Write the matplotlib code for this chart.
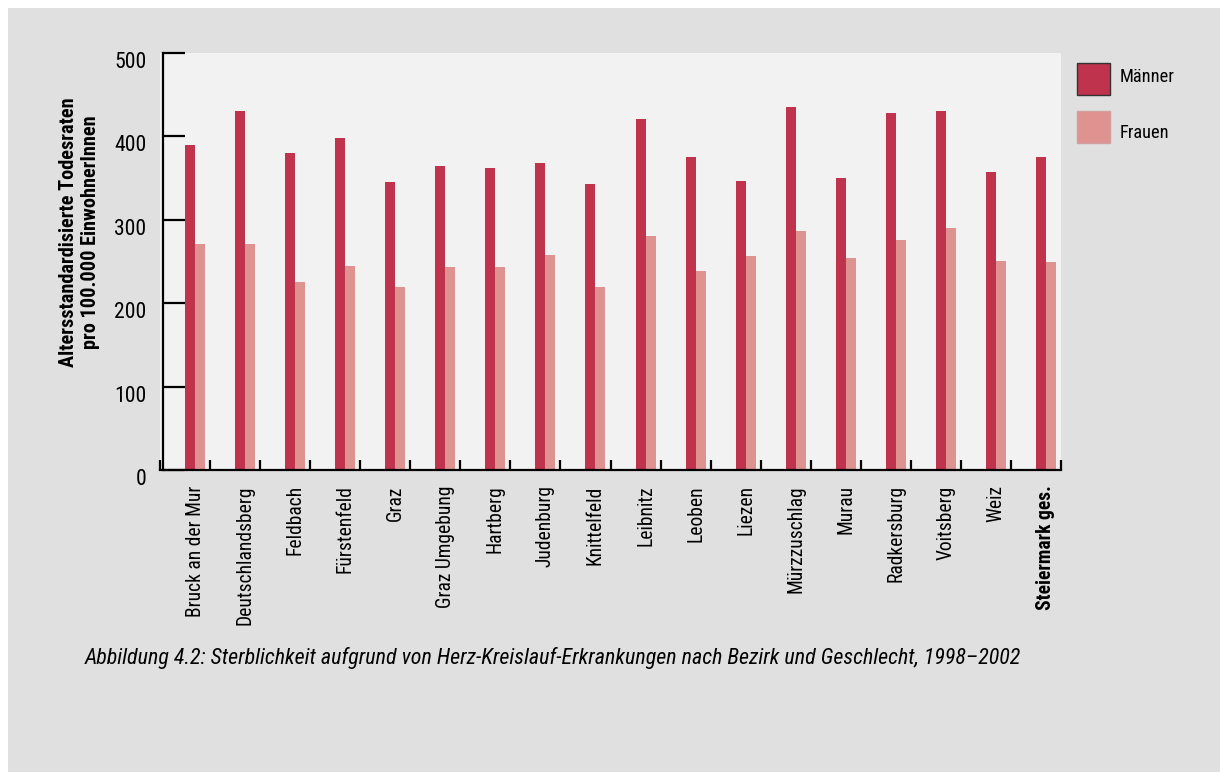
import numpy as np
import matplotlib.pyplot as plt
import matplotlib.transforms as mtransforms
from matplotlib import font_manager
from matplotlib.patches import Rectangle

# Altersstandardisierte Todesraten je Bezirk, 1998-2002
bezirke = ['Bruck an der Mur', 'Deutschlandsberg', 'Feldbach', 'Fürstenfeld', 'Graz',
           'Graz Umgebung', 'Hartberg', 'Judenburg', 'Knittelfeld', 'Leibnitz', 'Leoben',
           'Liezen', 'Mürzzuschlag', 'Murau', 'Radkersburg', 'Voitsberg', 'Weiz',
           'Steiermark ges.']
maenner = [390, 431, 380, 398, 345, 365, 362, 368, 343, 421, 375, 347, 435, 350, 428, 431, 357, 375]
frauen = [271, 271, 226, 245, 220, 244, 244, 258, 219, 280, 239, 257, 287, 254, 276, 290, 251, 249]
y_ticks = [0, 100, 200, 300, 400, 500]
caption = ('Abbildung 4.2: Sterblichkeit aufgrund von Herz-Kreislauf-Erkrankungen '
           'nach Bezirk und Geschlecht, 1998–2002')

# prefer a narrow sans, fall back to an Arial-like one
installed = {f.name for f in font_manager.fontManager.ttflist}
wanted = ['Liberation Sans Narrow', 'Roboto Condensed', 'Noto Sans Condensed',
          'Open Sans Condensed', 'Liberation Sans', 'Roboto']
font = next((f for f in wanted if f in installed), 'DejaVu Sans')
plt.rcParams['font.family'] = [font, 'DejaVu Sans']

C_M = '#bf344c'
C_F = '#df9391'

W, H = 1220, 772
fig = plt.figure(figsize=(W / 100, H / 100), dpi=100, facecolor='white')

# scale all text so the caption spans its intended width
probe = fig.text(0, 0, caption, fontsize=15, style='italic')
fig.canvas.draw()
k = 937 / probe.get_window_extent().width
probe.remove()
fs = lambda s: s * k

# grey page background with a thin white margin top/left
fig.add_artist(Rectangle((8 / W, 0), 1, 1 - 8 / H, transform=fig.transFigure,
                         facecolor='#e0e0e0', edgecolor='none', zorder=-10))

ax = fig.add_axes([160 / W, (H - 470) / H, 901 / W, 417 / H])
ax.set_facecolor('#f2f2f2')

x = np.arange(len(bezirke))
bw = 0.2
ax.bar(x + bw / 2, maenner, width=bw, color=C_M, zorder=2)
ax.bar(x + 1.5 * bw, frauen, width=bw, color=C_F, zorder=2)

ax.set_xlim(-0.5, 17.5)
ax.set_ylim(0, 500)

for s in ['top', 'right']:
    ax.spines[s].set_visible(False)
ax.spines['left'].set_position(('data', -0.44))
ax.spines['left'].set_linewidth(1.6)
ax.spines['bottom'].set_linewidth(1.6)

# y axis: inward ticks, labels shifted slightly down
ax.set_yticks(y_ticks)
ax.set_yticklabels([str(v) for v in y_ticks])
ax.tick_params(axis='y', direction='in', length=16, width=1.6, pad=12, labelsize=fs(14.8))
off = mtransforms.ScaledTranslation(0, -7 / 100, fig.dpi_scale_trans)
for lab in ax.get_yticklabels():
    lab.set_transform(lab.get_transform() + off)

# x axis: short inward ticks at group boundaries, names on minor ticks
ax.set_xticks(np.arange(-0.5, 18, 1))
ax.set_xticklabels([])
ax.tick_params(axis='x', which='major', direction='in', length=7, width=1.6)
ax.set_xticks(x + bw, minor=True)
ax.set_xticklabels(bezirke, minor=True, rotation=90, va='top', ha='center')
ax.tick_params(axis='x', which='minor', length=0, pad=11, labelsize=fs(13.3))
ax.get_xticklabels(minor=True)[-1].set_fontweight('bold')

fig.text(79 / W, 1 - 232 / H,
         'Altersstandardisierte Todesraten\npro 100.000 EinwohnerInnen',
         rotation=90, ha='center', va='center', fontsize=fs(13.8), fontweight='bold',
         linespacing=1.2)

# legend
fig.add_artist(Rectangle((1077 / W, 1 - 95 / H), 33 / W, 32 / H, transform=fig.transFigure,
                         facecolor=C_M, edgecolor='#333333', linewidth=1))
fig.add_artist(Rectangle((1077 / W, 1 - 143 / H), 33 / W, 32 / H, transform=fig.transFigure,
                         facecolor=C_F, edgecolor='#d0a0a0', linewidth=1))
fig.text(1120 / W, 1 - 77 / H, 'Männer', ha='left', va='center', fontsize=fs(12.5))
fig.text(1120 / W, 1 - 133 / H, 'Frauen', ha='left', va='center', fontsize=fs(12.5))

fig.text(85 / W, 1 - 658 / H, caption, ha='left', va='center', fontsize=fs(15), style='italic')

fig.savefig('out.png', dpi=100, facecolor=fig.get_facecolor())
